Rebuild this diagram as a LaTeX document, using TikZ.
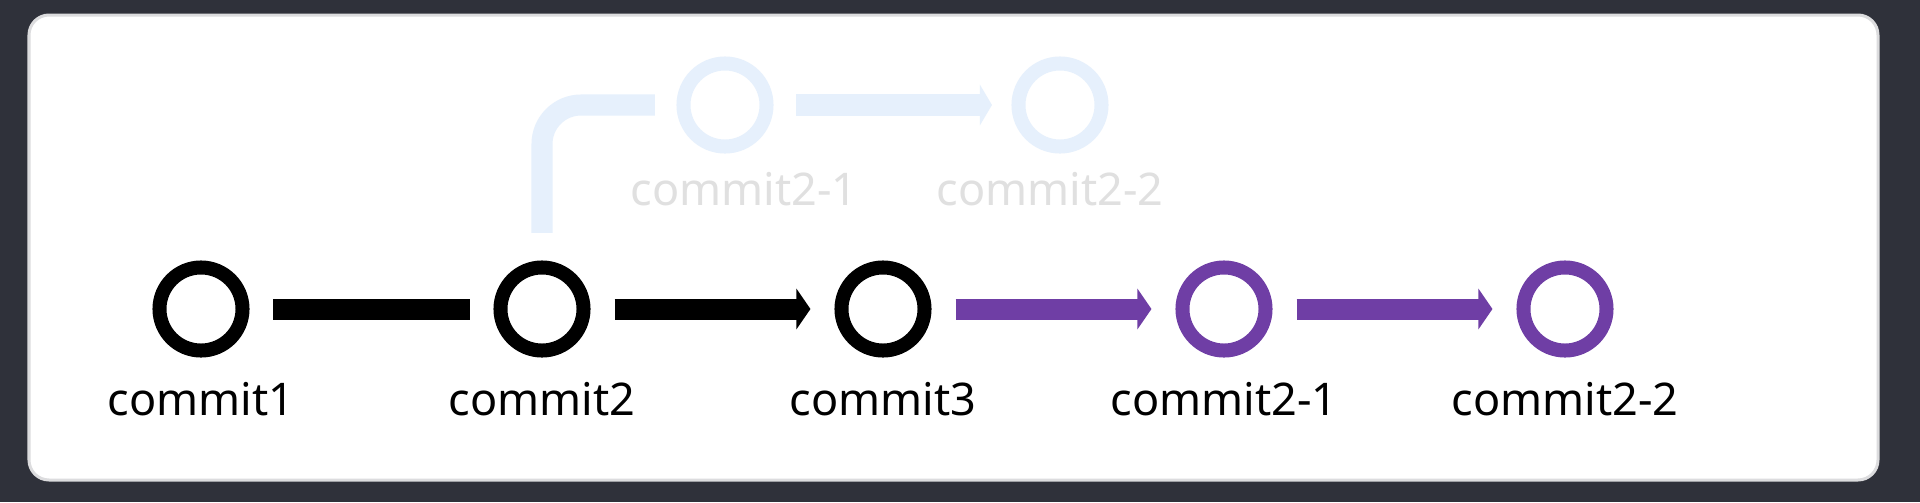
\documentclass[tikz,border=0pt]{standalone}
\usepackage{fontspec}
\setmainfont{Noto Sans}
\usetikzlibrary{arrows.meta}
\definecolor{bgdark}{RGB}{47,49,58}
\definecolor{cardline}{RGB}{220,220,222}
\definecolor{mergepurple}{RGB}{111,62,165}
\definecolor{ghostblue}{RGB}{230,240,252}
\definecolor{ghosttext}{RGB}{224,224,224}
\tikzset{
  commit/.style={circle, draw=#1, line width=0.14cm, minimum size=0.83cm, inner sep=0pt},
  commitname/.style={anchor=base, font=\fontsize{12.8pt}{15pt}\selectfont, text=#1},
  link/.style={line width=0.21cm, draw=#1},
  pointed/.style={-{Triangle[length=0.14cm, width=0.4cm]}},
}
\begin{document}
\begin{tikzpicture}[x=0.01cm, y=0.01cm]
\useasboundingbox (0,0) rectangle (1920,502);
\fill[bgdark] (0,0) rectangle (1920,502);
\draw[fill=white, draw=cardline, line width=0.03cm, rounded corners=0.2cm] (29,22) rectangle (1878,487);
% main line
\foreach \x/\name/\txt/\col in {201/c1/commit1/black, 542/c2/commit2/black, 883/c3/commit3/black, 1224/c21/commit2-1/mergepurple, 1565/c22/commit2-2/mergepurple}
{
	\node[commit=\col] (\name) at (\x,193) {};
	\node[commitname=black] at (\x,87) {\txt};
}
\draw[link=black, shorten <=0.235cm, shorten >=0.235cm] (c1) -- (c2);
\draw[link=black, pointed, shorten <=0.24cm, shorten >=0.24cm] (c2) -- (c3);
\draw[link=mergepurple, pointed, shorten <=0.24cm, shorten >=0.24cm] (c3) -- (c21);
\draw[link=mergepurple, pointed, shorten <=0.24cm, shorten >=0.24cm] (c21) -- (c22);
% old branch, faded
\node[commit=ghostblue] (g21) at (725,397) {};
\node[commit=ghostblue] (g22) at (1060,397) {};
\node[commitname=ghosttext] at (744,297) {commit2-1};
\node[commitname=ghosttext] at (1050,297) {commit2-2};
\draw[link=ghostblue, rounded corners=0.39cm] ([yshift=0.275cm]c2.north) |- ([xshift=-0.215cm]g21.west);
\draw[link=ghostblue, -{Triangle[length=0.12cm, width=0.4cm]}, shorten <=0.225cm, shorten >=0.195cm] (g21) -- (g22);
\end{tikzpicture}
\end{document}
